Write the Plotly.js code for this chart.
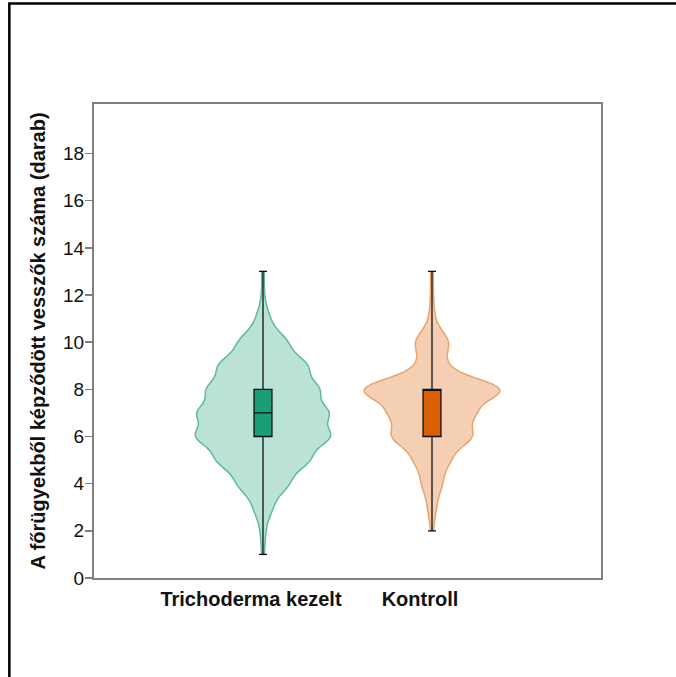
<!DOCTYPE html>
<html>
<head>
<meta charset="utf-8">
<script src="https://cdn.plot.ly/plotly-3.0.1.min.js"></script>
<style>
  html, body { margin: 0; padding: 0; background: #ffffff; }
  #chart { width: 676px; height: 677px; }
</style>
</head>
<body>
<div id="chart"></div>
<script>
// Categories
const categories = ["Trichoderma kezelt", "Kontroll"];

const trichoValues = [1, 2, 3, 4, 5, 6, 7, 8, 9, 10, 11, 12, 13];
const trichoCounts = [1, 2, 7, 19, 34, 50, 48, 41, 33, 18, 5, 1, 1];

const kontrollValues = [2, 3, 4, 5, 6, 7, 8, 9, 10, 11, 12, 13];
const kontrollCounts = [1, 3, 7, 12, 28, 28, 50, 9, 12, 2, 1, 1];

// Box statistics: [Trichoderma, Kontroll]
const q1 = [6, 6];
const medians = [7, 8];
const q3 = [8, 8];
const lowerFences = [1, 2];
const upperFences = [13, 13];

// Y tick labels
const yTicks = [0, 2, 4, 6, 8, 10, 12, 14, 16, 18];

const violinFill = ["rgba(27,158,119,0.3)", "rgba(217,95,2,0.3)"];
const violinLine = ["#5fb99d", "#eaa46c"];
const boxFill = ["#1b9e77", "#d95f02"];

function expand(values, counts) {
  const out = [];
  values.forEach((v, i) => { for (let k = 0; k < counts[i]; k++) out.push(v); });
  return out;
}

const samples = [expand(trichoValues, trichoCounts), expand(kontrollValues, kontrollCounts)];

const traces = [];
categories.forEach((cat, i) => {
  traces.push({
    type: "violin",
    x: samples[i].map(() => cat),
    y: samples[i],
    name: cat,
    width: 0.8,
    bandwidth: 0.47,
    spanmode: "hard",
    scalemode: "width",
    points: false,
    box: { visible: false },
    meanline: { visible: false },
    fillcolor: violinFill[i],
    line: { color: violinLine[i], width: 1.5 },
    hoverinfo: "skip",
    showlegend: false
  });
});
categories.forEach((cat, i) => {
  traces.push({
    type: "box",
    x: [cat],
    q1: [q1[i]],
    median: [medians[i]],
    q3: [q3[i]],
    lowerfence: [lowerFences[i]],
    upperfence: [upperFences[i]],
    width: 0.106,
    whiskerwidth: 0.45,
    fillcolor: boxFill[i],
    line: { color: "#111111", width: 1.3 },
    boxpoints: false,
    hoverinfo: "skip",
    showlegend: false
  });
});

const layout = {
  width: 676,
  height: 677,
  margin: { l: 94, r: 75, t: 104, b: 99 },
  paper_bgcolor: "#ffffff",
  plot_bgcolor: "#ffffff",
  violinmode: "overlay",
  boxmode: "overlay",
  showlegend: false,
  font: { family: "Liberation Sans, Arial, sans-serif", color: "#111111" },
  xaxis: {
    type: "category",
    categoryorder: "array",
    categoryarray: categories,
    range: [-1, 2],
    showgrid: false,
    zeroline: false,
    showline: true,
    linecolor: "#808080",
    linewidth: 2,
    mirror: true,
    ticks: "",
    ticklabelshift: -12,
    ticklabelstandoff: 2,
    tickfont: { size: 20, family: "Liberation Sans, Arial, sans-serif", color: "#111111", weight: "bold" }
  },
  yaxis: {
    range: [0, 20.1],
    tickvals: yTicks,
    ticktext: yTicks.map(String),
    showgrid: false,
    zeroline: false,
    showline: true,
    linecolor: "#808080",
    linewidth: 2,
    mirror: true,
    ticks: "outside",
    ticklen: 7,
    tickwidth: 1.5,
    tickcolor: "#808080",
    ticklabelstandoff: -3,
    tickfont: { size: 19, family: "Liberation Sans, Arial, sans-serif", color: "#111111" },
    title: {
      text: "A főrügyekből képződött vesszők száma (darab)",
      font: { size: 20, family: "Liberation Sans, Arial, sans-serif", color: "#111111", weight: "bold" },
      standoff: 12
    }
  },
  shapes: [{
    type: "rect",
    xref: "paper", yref: "paper",
    x0: -0.167, x1: 1.4, y0: -0.4, y1: 1.212,
    line: { color: "#000000", width: 2.5 },
    fillcolor: "rgba(0,0,0,0)",
    layer: "below"
  }]
};

Plotly.newPlot("chart", traces, layout, { displayModeBar: false, staticPlot: true });
</script>
</body>
</html>
